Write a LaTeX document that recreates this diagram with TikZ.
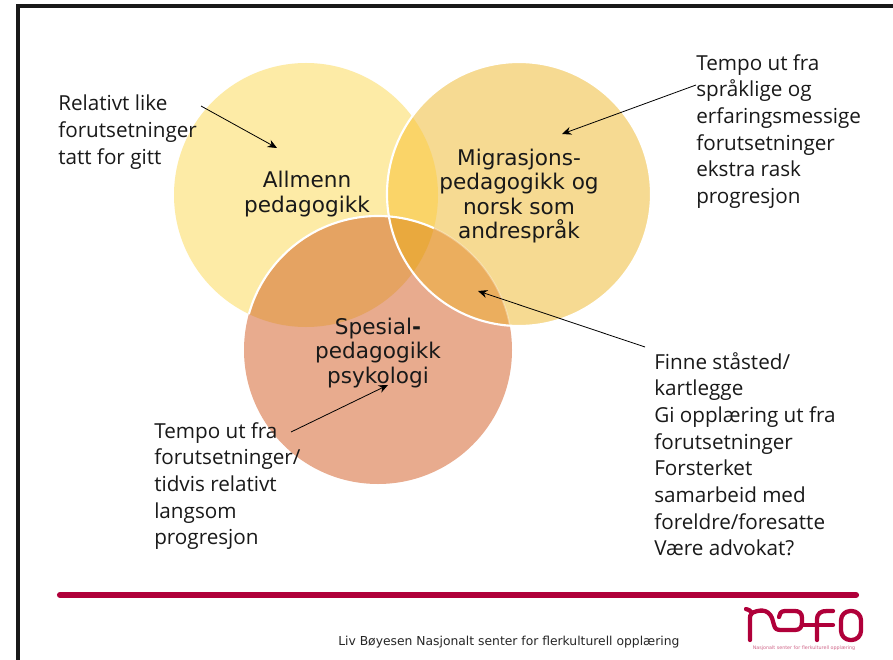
\documentclass[tikz,border=0pt]{standalone}
\usepackage{fontspec}
\setmainfont{Open Sans}
\newfontfamily\labelfont{DejaVu Sans}
\usetikzlibrary{arrows.meta}
\definecolor{cY}{HTML}{FDEBA6}
\definecolor{cM}{HTML}{F6DA92}
\definecolor{cS}{HTML}{E8AB8E}
\definecolor{cYM}{HTML}{FAD468}
\definecolor{cYS}{HTML}{E5A362}
\definecolor{cMS}{HTML}{EBAE5E}
\definecolor{cYMS}{HTML}{E9A93E}
\definecolor{brand}{HTML}{B0003A}
\tikzset{
  x=0.75pt,y=-0.75pt,
  side/.style={anchor=north west,inner sep=0pt,align=left,font=\fontsize{15.5}{20}\selectfont,text=black!90},
  venn/.style={anchor=center,inner sep=0pt,align=center,font=\labelfont\fontsize{16.2}{18.2}\selectfont,text=black!90},
  lead/.style={-{Stealth[length=7pt,width=6pt]},line width=0.6pt,black},
  logo/.style={brand,line width=3.2pt,line cap=round,line join=round}
}
\newcommand{\cy}{(306,195) circle[radius=132]}
\newcommand{\cm}{(519,194) circle[radius=132]}
\newcommand{\cs}{(378,350) circle[radius=134]}
\begin{document}
\begin{tikzpicture}
\useasboundingbox (0,0) rectangle (893,660);
\fill[white] (0,0) rectangle (893,660);
\draw[line width=2.4pt,black!90] (18,660) -- (18,6) -- (893,6);
% circles
\fill[cY] \cy;
\fill[cS] \cs;
\fill[cM] \cm;
\begin{scope}\clip \cy; \fill[cYS] \cs; \end{scope}
\begin{scope}\clip \cy; \fill[cYM] \cm; \end{scope}
\begin{scope}\clip \cm; \fill[cMS] \cs; \end{scope}
\begin{scope}\clip \cy; \clip \cm; \fill[cYMS] \cs; \end{scope}
\begin{scope}\clip \cy; \draw[white,line width=1.6pt] \cs; \end{scope}
\begin{scope}\clip \cm; \draw[white,opacity=.3,line width=1.2pt] \cs; \end{scope}
\draw[white,line width=1.6pt] \cm;
% venn labels
\node[venn] (allmenn) at (307,194) {Allmenn\\pedagogikk};
\node[venn] (migr) at (519,196) {Migrasjons-\\pedagogikk og\\norsk som\\andrespråk};
\node[venn] (spes) at (378,353) {Spesial\textbf{-}\\pedagogikk\\psykologi};
% side texts
\node[side] (t1) at (58,95) {Relativt like\\forutsetninger\\tatt for gitt};
\node[side] (t2) at (696,54) {Tempo ut fra\\språklige og\\erfaringsmessige\\forutsetninger\\ekstra rask\\progresjon};
\node[side] (t3) at (654,352) {Finne ståsted/\\kartlegge\\Gi opplæring ut fra\\forutsetninger\\Forsterket\\samarbeid med\\foreldre/foresatte\\Være advokat?};
\node[side] (t4) at (154,422) {Tempo ut fra\\forutsetninger/\\tidvis relativt\\langsom\\progresjon};
% leaders
\coordinate (a1s) at (201,106); \coordinate (a1e) at (277,148);
\coordinate (a2s) at (696,85);  \coordinate (a2e) at (562,134);
\coordinate (a3s) at (645,347); \coordinate (a3e) at (478,291);
\coordinate (a4s) at (291,432); \coordinate (a4e) at (388,385);
\draw[lead] (a1s) -- (a1e);
\draw[lead] (a2s) -- (a2e);
\draw[lead] (a3s) -- (a3e);
\draw[lead] (a4s) -- (a4e);
% footer
\coordinate (rs) at (60,595); \coordinate (re) at (856,595);
\draw[brand,line width=4.6pt,line cap=round] (rs) -- (re);
\node[anchor=base west,inner sep=0pt,font=\labelfont\fontsize{9.25}{10}\selectfont,text=black!85] (foot) at (338,645) {Liv Bøyesen Nasjonalt senter for flerkulturell opplæring};
% logo
\draw[logo] (746,609) .. controls (749,609) and (750,611) .. (752,613);
\draw[logo] (750,640) -- (750,620) .. controls (750,616) and (750,615) .. (752,613) .. controls (758,610) and (768,608) .. (772,618) -- (774,625) .. controls (775,629) and (777,630) .. (781,630) -- (795,630) .. controls (800,630) and (802,627) .. (802,622) -- (802,618) .. controls (802,613) and (799,611) .. (795,611) -- (785,611) .. controls (781,611) and (779,614) .. (779,617);
\draw[logo] (817,640) -- (817,620) .. controls (817,613) and (821,611) .. (827,611) -- (833,611);
\draw[logo] (802,625) -- (833,625);
\draw[logo,rounded corners=7pt] (841,611) rectangle (861,640);
\node[anchor=center,inner sep=0pt,font=\labelfont\fontsize{3.6}{4}\selectfont,text=brand!60] (logotext) at (804,648) {Nasjonalt senter for flerkulturell opplæring};
\end{tikzpicture}
\end{document}
